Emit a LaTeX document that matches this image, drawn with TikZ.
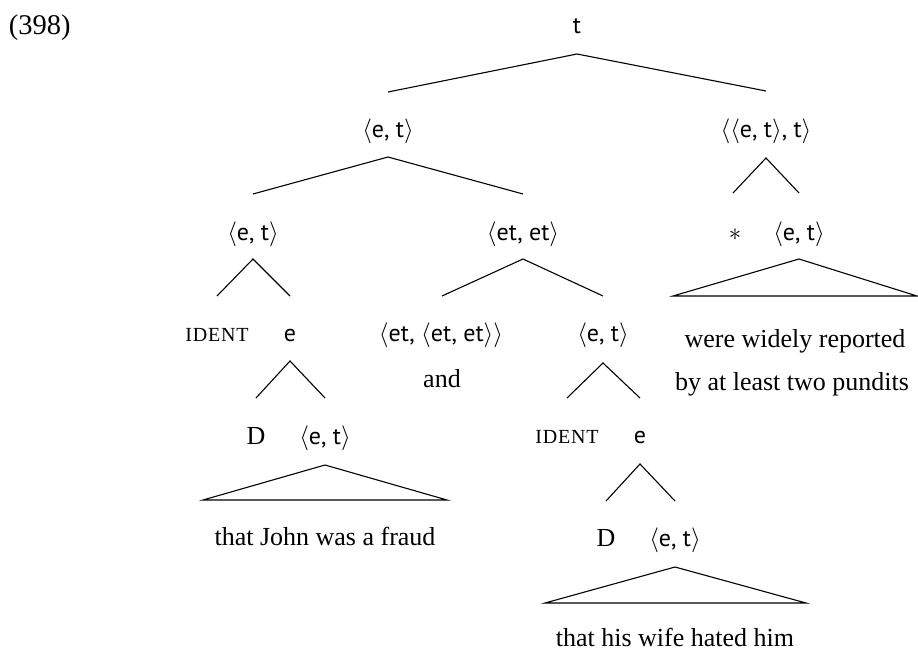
\documentclass[tikz,border=0pt]{standalone}
\usepackage{fontspec}
\setmainfont{Liberation Serif}
\newfontfamily\tsf{PT Sans}
\newfontfamily\scfont[LetterSpace=4]{Liberation Serif}
\newcommand\ty[1]{{\tsf\fontsize{24}{28}\selectfont #1}}
\newcommand\ang[1]{$\langle$#1$\rangle$}
\newcommand\fsc[1]{{\scfont\fontsize{20}{22}\selectfont #1}}
\tikzset{
  lbl/.style={anchor=base, inner sep=0pt, outer sep=0pt, font=\fontsize{26}{30}\selectfont},
  edge/.style={line width=1.1pt, line join=miter},
}
\begin{document}
\begin{tikzpicture}[x=1pt,y=-1pt]
\useasboundingbox (0,0) rectangle (918,652);
% labels
\node[lbl, anchor=base west, font=\fontsize{28.5}{32}\selectfont] (ex) at (9,35) {(398)};
\node[lbl] (t) at (577,34) {\ty{t}};
\node[lbl] (l1a) at (388,138) {\ang{\ty{e, t}}};
\node[lbl] (l1b) at (766,138) {\ang{\ang{\ty{e, t}}\ty{, t}}};
\node[lbl] (l2a) at (253,241) {\ang{\ty{e, t}}};
\node[lbl] (l2b) at (523,241) {\ang{\ty{et, et}}};
\node[lbl] (star) at (735,241) {$\ast$};
\node[lbl] (l2d) at (799,241) {\ang{\ty{e, t}}};
\node[lbl] (id1) at (217,341) {\fsc{IDENT}};
\node[lbl] (e1) at (290,341) {\ty{e}};
\node[lbl] (l3c) at (441,341) {\ang{\ty{et, }\ang{\ty{et, et}}}};
\node[lbl] (and) at (442,387) {and};
\node[lbl] (l3d) at (603,341) {\ang{\ty{e, t}}};
\node[lbl] (wr1) at (795,347) {were widely reported};
\node[lbl] (wr2) at (792,390) {by at least two pundits};
\node[lbl] (d1) at (256,444) {D};
\node[lbl] (l4b) at (325,444) {\ang{\ty{e, t}}};
\node[lbl] (id2) at (567,443) {\fsc{IDENT}};
\node[lbl] (e2) at (640,443) {\ty{e}};
\node[lbl] (jf) at (325,545) {that John was a fraud};
\node[lbl] (d2) at (606,546) {D};
\node[lbl] (l5b) at (675,546) {\ang{\ty{e, t}}};
\node[lbl] (hw) at (675,646) {that his wife hated him};
% branches
\draw[edge] ([yshift=46pt]l1a.base) -- ([yshift=-20pt]t.base) -- ([yshift=47pt]l1b.base);
\draw[edge] ([yshift=47pt]l2a.base) -- ([yshift=-19pt]l1a.base) -- ([yshift=47pt]l2b.base);
\draw[edge] ([xshift=-2pt,yshift=48pt]star.base) -- ([yshift=-20pt]l1b.base) -- ([yshift=48pt]l2d.base);
\draw[edge] ([yshift=45pt]id1.base) -- ([yshift=-18pt]l2a.base) -- ([yshift=45pt]e1.base);
\draw[edge] ([xshift=1pt,yshift=45pt]l3c.base) -- ([yshift=-18pt]l2b.base) -- ([yshift=45pt]l3d.base);
\draw[edge] ([yshift=46pt]d1.base) -- ([yshift=-20pt]e1.base) -- ([yshift=46pt]l4b.base);
\draw[edge] ([yshift=45pt]id2.base) -- ([yshift=-22pt]l3d.base) -- ([yshift=45pt]e2.base);
\draw[edge] ([yshift=45pt]d2.base) -- ([yshift=-21pt]e2.base) -- ([yshift=45pt]l5b.base);
% triangles
\draw[edge] ([yshift=-18pt]l2d.base) -- ([xshift=-126pt,yshift=-55pt]l2d.base) -- ([xshift=118pt,yshift=-55pt]l2d.base) -- cycle;
\draw[edge] ([yshift=-21pt]l4b.base) -- ([xshift=-122pt,yshift=-56pt]l4b.base) -- ([xshift=122pt,yshift=-56pt]l4b.base) -- cycle;
\draw[edge] ([yshift=-21pt]l5b.base) -- ([xshift=-130pt,yshift=-57pt]l5b.base) -- ([xshift=131pt,yshift=-57pt]l5b.base) -- cycle;
\end{tikzpicture}
\end{document}
